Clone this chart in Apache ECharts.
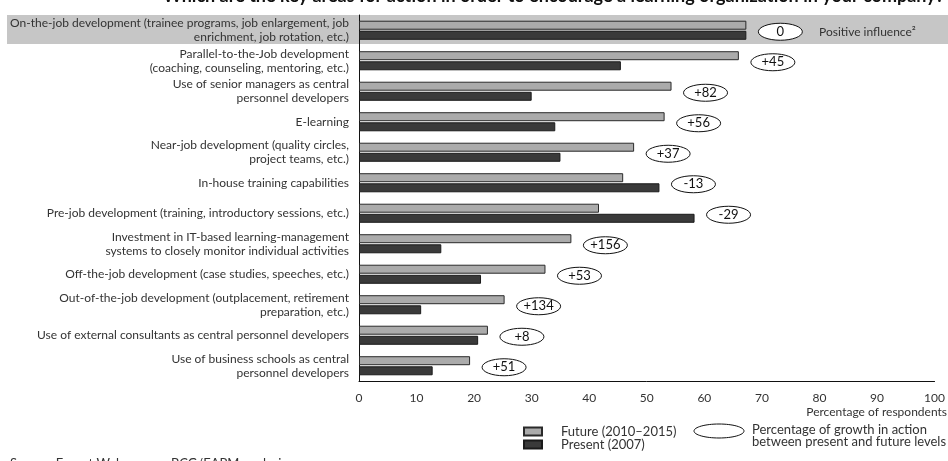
<!DOCTYPE html>
<html>
<head>
<meta charset="utf-8">
<script src="https://cdn.jsdelivr.net/npm/echarts@6/dist/echarts.min.js"></script>
<style>
  html, body { margin: 0; padding: 0; background: #fff; }
  #chart { width: 948px; height: 461px; }
</style>
</head>
<body>
<div id="chart"></div>
<script>
// Areas for action, top to bottom
const categories = [
  'On-the-job development (trainee programs, job enlargement, job\nenrichment, job rotation, etc.)',
  'Parallel-to-the-Job development\n(coaching, counseling, mentoring, etc.)',
  'Use of senior managers as central\npersonnel developers',
  'E-learning',
  'Near-job development (quality circles,\nproject teams, etc.)',
  'In-house training capabilities',
  'Pre-job development (training, introductory sessions, etc.)',
  'Investment in IT-based learning-management\nsystems to closely monitor individual activities',
  'Off-the-job development (case studies, speeches, etc.)',
  'Out-of-the-job development (outplacement, retirement\npreparation, etc.)',
  'Use of external consultants as central personnel developers',
  'Use of business schools as central\npersonnel developers'
];

// Percentage of respondents
const futureValues  = [67.3, 66.0, 54.3, 53.1, 47.8, 45.9, 41.7, 36.9, 32.4, 25.3, 22.4, 19.3];
const presentValues = [67.3, 45.5, 30.0, 34.1, 35.0, 52.2, 58.3, 14.3, 21.2, 10.8, 20.7, 12.8];

// Growth in action between present and future levels (%)
const growthLabels = ['0', '+45', '+82', '+56', '+37', '-13', '-29', '+156', '+53', '+134', '+8', '+51'];

const xTicks = { min: 0, max: 100, interval: 10 };

const FONT = 'Lato, "Noto Sans", sans-serif';
const TEXT = '#333';

const chart = echarts.init(document.getElementById('chart'), null, { renderer: 'canvas' });

// growth ellipses sit just past the longer of the two bars in each row
const growthData = categories.map((c, i) => [Math.max(futureValues[i], presentValues[i]), i]);

const option = {
  animation: false,
  backgroundColor: '#fff',
  textStyle: { fontFamily: FONT },
  grid: { left: 359, top: 15, width: 581, height: 366, containLabel: false },
  xAxis: {
    type: 'value',
    min: xTicks.min, max: xTicks.max, interval: xTicks.interval,
    axisLine: { show: true, lineStyle: { color: '#111', width: 1 } },
    axisTick: { show: false },
    splitLine: { show: false },
    axisLabel: { color: TEXT, fontSize: 12, margin: 11, fontFamily: FONT }
  },
  yAxis: {
    type: 'category',
    inverse: true,
    data: categories,
    axisLine: { show: true, lineStyle: { color: '#111', width: 1 } },
    axisTick: { show: false },
    axisLabel: { color: TEXT, fontSize: 12, lineHeight: 14, margin: 10, align: 'right', fontFamily: FONT }
  },
  legend: {
    orient: 'vertical',
    left: 523, top: 425,
    itemWidth: 18, itemHeight: 8, itemGap: 0,
    padding: 0,
    icon: 'rect',
    data: ['Future (2010\u20132015)', 'Present (2007)'],
    textStyle: { color: TEXT, fontSize: 13, lineHeight: 11, fontFamily: FONT, padding: [0, 0, 0, 14] }
  },
  series: [
    {
      name: 'Future (2010\u20132015)',
      type: 'bar',
      data: futureValues,
      barWidth: 9,
      barGap: '12%',
      itemStyle: { color: '#ababab', borderColor: '#2a2a2a', borderWidth: 1 }
    },
    {
      name: 'Present (2007)',
      type: 'bar',
      data: presentValues,
      barWidth: 9,
      itemStyle: { color: '#3a3a3a', borderColor: '#1a1a1a', borderWidth: 1 }
    },
    {
      name: 'growth',
      type: 'custom',
      data: growthData,
      encode: { x: 0, y: 1 },
      z: 5,
      renderItem: function (params, api) {
        const idx = api.value(1);
        const p = api.coord([api.value(0), idx]);
        const cx = p[0] + 34, cy = p[1] + 1.5;
        return {
          type: 'group',
          children: [
            { type: 'ellipse', shape: { cx: cx, cy: cy, rx: 22, ry: 8.5 },
              style: { fill: '#fff', stroke: '#111', lineWidth: 1 } },
            { type: 'text', style: { x: cx, y: cy, text: growthLabels[idx], align: 'center', verticalAlign: 'middle',
              font: '13px ' + FONT, fill: '#111' } }
          ]
        };
      }
    }
  ]
};

chart.setOption(option);

// highlight band behind the first row, plus free-standing text
const rowY = chart.convertToPixel({ yAxisIndex: 0 }, 0);
const band = 366 / categories.length;
chart.setOption({
  graphic: [
    { type: 'rect', z: -10, shape: { x: 7, y: rowY - band / 2, width: 941, height: band - 1.5 },
      style: { fill: '#c6c6c6' } },
    { type: 'text', z: 10, style: { x: 819, y: rowY + 2, text: 'Positive influence\u00b2', verticalAlign: 'middle',
      font: '12px ' + FONT, fill: TEXT } },
    { type: 'text', style: { x: 944, y: 5, text: 'Which are the key areas for action in order to encourage a learning organization in your company?',
      align: 'right', verticalAlign: 'bottom', font: 'bold 18px ' + FONT, fill: '#111' } },
    { type: 'text', style: { x: 947, y: 412, text: 'Percentage of respondents', align: 'right', verticalAlign: 'middle',
      font: '12px ' + FONT, fill: TEXT } },
    { type: 'ellipse', shape: { cx: 719, cy: 431, rx: 25, ry: 7 }, style: { fill: '#fff', stroke: '#111', lineWidth: 1 } },
    { type: 'text', style: { x: 752, y: 424, text: 'Percentage of growth in action\nbetween present and future levels',
      font: '13px ' + FONT, lineHeight: 12, fill: TEXT, verticalAlign: 'top' } },
    { type: 'text', style: { x: 10, y: 457, text: 'Source: Expert Web survey; BCG/EAPM analysis.',
      font: '13px ' + FONT, fill: TEXT, verticalAlign: 'top' } }
  ]
});
</script>
</body>
</html>
